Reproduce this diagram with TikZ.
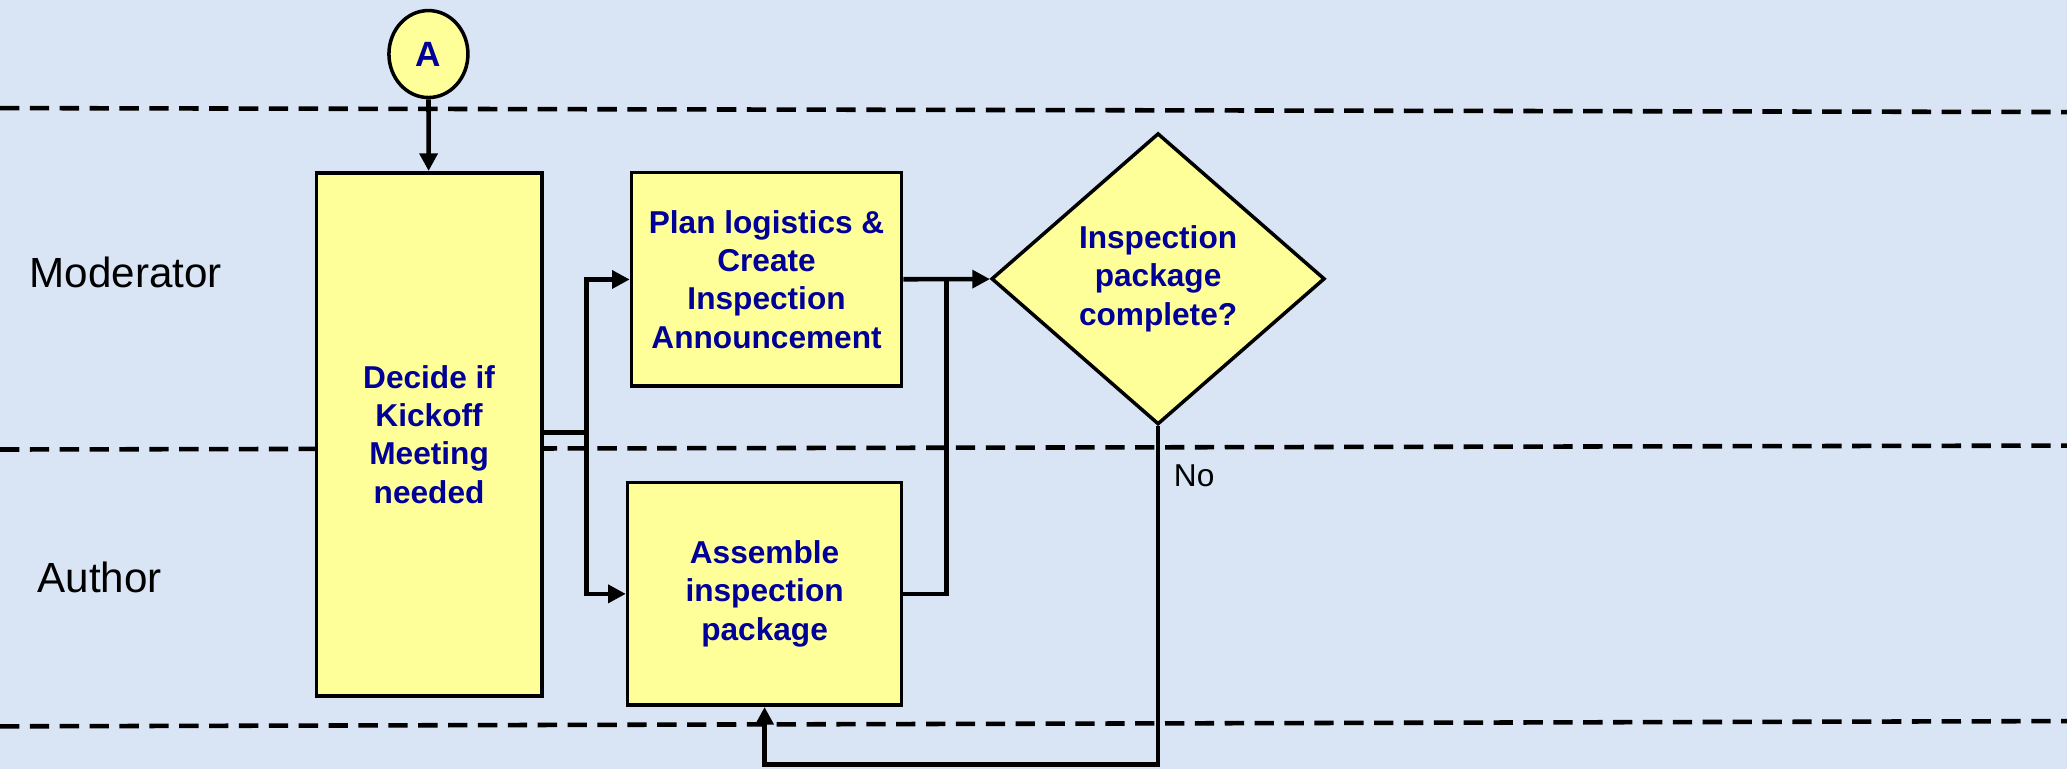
\documentclass[tikz,border=0pt]{standalone}
\usepackage{fontspec}
\setmainfont{Liberation Sans}
\usetikzlibrary{shapes.geometric,arrows.meta}

\definecolor{lanebg}{HTML}{D9E4F5}
\definecolor{boxfill}{HTML}{FFFF99}
\definecolor{boxtext}{HTML}{000099}

\tikzset{
  proc/.style={draw, fill=boxfill, line width=1pt, text=boxtext,
    font=\bfseries\fontsize{9}{10.9}\selectfont, align=center, inner sep=1pt},
  decision/.style={proc, diamond},
  lanesep/.style={line width=1.3pt, dash pattern=on 5.5pt off 3pt},
  wire/.style={line width=1.3pt},
  flow/.style={wire, -{Triangle[length=5pt,width=5pt]}},
  lanename/.style={font=\fontsize{12}{14}\selectfont, anchor=west, inner sep=0pt},
}

\begin{document}
\begin{tikzpicture}[x=0.01318cm, y=-0.01318cm]
    \fill[lanebg] (0,0) rectangle (1568,583);
    \useasboundingbox (0,0) rectangle (1568,583);
    % swimlane borders
    \draw[lanesep] (0,82) -- (1568,85);
    \draw[lanesep] (0,341) -- (1568,338);
    \draw[lanesep] (0,551) -- (1568,547);
    \node[lanename] (moderator) at (22,207) {Moderator};
    \node[lanename] (author) at (28,438) {Author};

    \node[proc, ellipse, minimum width=0.79cm, minimum height=0.87cm, inner sep=0pt,
      font=\bfseries\fontsize{10}{12}\selectfont] (conA) at (325,41) {A};
    \node[proc, minimum width=2.254cm, minimum height=5.232cm] (decide) at (325.5,329.5)
      {Decide if\\Kickoff\\Meeting\\needed};
    \node[proc, minimum width=2.702cm, minimum height=2.135cm] (plan) at (581.5,212)
      {Plan logistics \&\\Create\\Inspection\\Announcement};
    \node[proc, minimum width=2.741cm, minimum height=2.227cm] (assemble) at (580,450.5)
      {Assemble\\inspection\\package};
    \node[decision, minimum width=3.334cm, minimum height=2.913cm] (check) at (878.5,211.5)
      {Inspection\\package\\complete?};
    \node[anchor=west, inner sep=0pt, font=\fontsize{9}{11}\selectfont] (no) at (890,361) {No};

    % connectors
    \coordinate (split) at (445,328);
    \coordinate (merge) at (718,212);
    \coordinate (loop) at (878.5,580);
    \draw[flow] (conA) -- (decide);
    \draw[wire] (decide.east |- split) -- (split);
    \draw[flow] (split) |- (plan);
    \draw[flow] (split) |- (assemble);
    \draw[flow] (plan) -- (check);
    \draw[wire] (assemble.east) -| (merge);
    \draw[flow] (check.south) -- (loop) -| (assemble.south);
\end{tikzpicture}
\end{document}
